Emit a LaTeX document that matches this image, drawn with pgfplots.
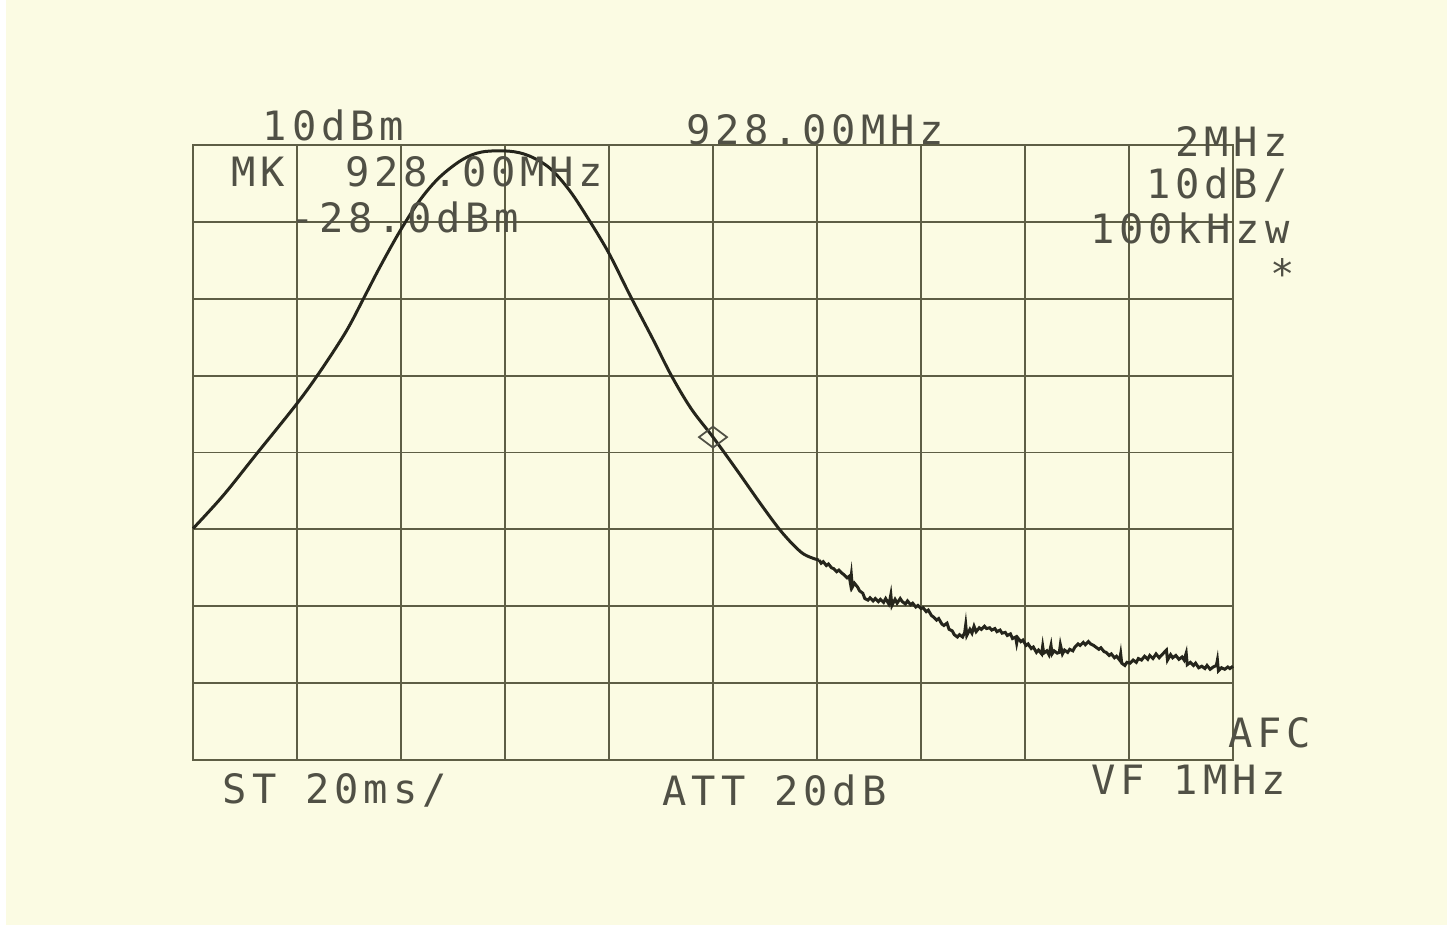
\documentclass[border=0pt]{standalone}
\usepackage{fontspec}
\setmonofont[LetterSpace=12]{DejaVu Sans Mono}
\usepackage{pgfplots}
\pgfplotsset{compat=1.18}
\definecolor{paper}{HTML}{FBFBE3}
\definecolor{gridc}{HTML}{5E5E45}
\definecolor{trace}{HTML}{25251C}
\definecolor{ink}{HTML}{505045}
\tikzset{lbl/.style={font=\ttfamily\fontsize{11.5}{12}\selectfont, text=ink, inner sep=0pt}}

\begin{document}
\begin{tikzpicture}
\fill[white] (0,0) rectangle (145.2mm,93.2mm);
\fill[paper] (0.6mm,0.7mm) rectangle (144.7mm,93.2mm);
\begin{axis}[
	at={(19.3mm,17.2mm)}, anchor=south west,
	scale only axis, width=104mm, height=61.5mm,
	xmin=0, xmax=10, ymin=0, ymax=8,
	xtick={0,1,...,10}, ytick={0,1,...,8},
	xticklabels={}, yticklabels={},
	major tick length=0pt,
	grid=major,
	grid style={gridc, line width=0.55pt},
	axis line style={gridc, line width=0.6pt},
	clip=false,
	]
	% trace, smooth part
	\addplot[trace, line width=0.85pt, smooth, tension=0.55] coordinates {
		(0.00,3.01) (0.29,3.44) (0.61,3.98) (0.99,4.62) (1.21,5.03) (1.47,5.57)
		(1.65,6.03) (1.80,6.42) (1.99,6.88) (2.18,7.28) (2.37,7.58) (2.59,7.81)
		(2.78,7.91) (3.04,7.92) (3.23,7.86) (3.43,7.70) (3.62,7.41) (3.81,7.02)
		(4.00,6.59) (4.20,6.05) (4.42,5.48) (4.60,5.00) (4.79,4.57) (5.00,4.20)
		(5.23,3.77) (5.48,3.29) (5.67,2.95) (5.86,2.69) (6.02,2.60)
	};
	% trace, noisy tail
	\addplot[trace, line width=0.85pt] coordinates {
		(6.02,2.60) (6.04,2.56) (6.06,2.58) (6.09,2.53) (6.11,2.55) (6.14,2.50)
		(6.16,2.49) (6.19,2.45) (6.21,2.47) (6.24,2.43) (6.26,2.41) (6.29,2.37)
		(6.31,2.39) (6.32,2.31) (6.33,2.41) (6.34,2.25) (6.36,2.30) (6.39,2.25)
		(6.41,2.20) (6.44,2.17) (6.46,2.10) (6.49,2.08) (6.51,2.11) (6.54,2.07)
		(6.56,2.10) (6.59,2.06) (6.61,2.09) (6.64,2.05) (6.66,2.10) (6.69,2.03)
		(6.70,2.08) (6.71,2.15) (6.72,2.01) (6.75,2.09) (6.77,2.04) (6.80,2.10)
		(6.82,2.06) (6.85,2.03) (6.87,2.07) (6.90,2.02) (6.92,2.04) (6.95,1.99)
		(6.97,2.01) (7.00,1.97) (7.02,1.98) (7.05,1.93) (7.07,1.95) (7.10,1.88)
		(7.12,1.86) (7.15,1.82) (7.17,1.84) (7.20,1.77) (7.22,1.75) (7.25,1.78)
		(7.27,1.70) (7.30,1.68) (7.32,1.63) (7.35,1.60) (7.37,1.63) (7.40,1.60)
		(7.42,1.66) (7.43,1.76) (7.44,1.62) (7.47,1.70) (7.49,1.65) (7.51,1.74)
		(7.53,1.67) (7.56,1.72) (7.58,1.70) (7.61,1.74) (7.63,1.71) (7.66,1.72)
		(7.68,1.69) (7.71,1.71) (7.73,1.67) (7.76,1.69) (7.78,1.65) (7.81,1.66)
		(7.83,1.62) (7.86,1.64) (7.88,1.58) (7.91,1.60) (7.92,1.52) (7.93,1.59)
		(7.96,1.54) (7.98,1.56) (8.01,1.49) (8.03,1.51) (8.06,1.45) (8.08,1.47)
		(8.11,1.40) (8.13,1.43) (8.16,1.38) (8.17,1.48) (8.18,1.39) (8.21,1.42)
		(8.23,1.37) (8.25,1.49) (8.26,1.38) (8.28,1.42) (8.31,1.39) (8.33,1.40)
		(8.34,1.50) (8.36,1.38) (8.38,1.43) (8.41,1.40) (8.43,1.44) (8.46,1.42)
		(8.48,1.47) (8.51,1.51) (8.53,1.49) (8.56,1.53) (8.58,1.50) (8.61,1.54)
		(8.63,1.51) (8.66,1.49) (8.68,1.47) (8.71,1.44) (8.73,1.46) (8.76,1.41)
		(8.78,1.40) (8.81,1.36) (8.83,1.38) (8.86,1.33) (8.88,1.35) (8.91,1.30)
		(8.92,1.38) (8.93,1.26) (8.96,1.23) (8.98,1.27) (9.01,1.26) (9.04,1.30)
		(9.07,1.27) (9.09,1.32) (9.12,1.30) (9.15,1.35) (9.18,1.31) (9.20,1.36)
		(9.23,1.32) (9.26,1.38) (9.29,1.33) (9.31,1.36) (9.36,1.43) (9.37,1.30)
		(9.40,1.37) (9.42,1.33) (9.45,1.36) (9.48,1.31) (9.51,1.34) (9.53,1.30)
		(9.55,1.39) (9.56,1.24) (9.59,1.27) (9.62,1.23) (9.64,1.26) (9.67,1.20)
		(9.70,1.22) (9.73,1.19) (9.75,1.23) (9.78,1.18) (9.81,1.21) (9.84,1.23)
		(9.85,1.30) (9.86,1.16) (9.89,1.20) (9.92,1.18) (9.95,1.21) (9.97,1.19)
		(10.00,1.22)
	};
	% marker
	\addplot[only marks, mark=diamond, mark size=1.4mm,
		mark options={rotate=90, draw=ink, line width=0.5pt, fill=none}] coordinates {(5.00,4.20)};

	\node[lbl] at (axis cs:1.35,8.26) {10dBm};
	\node[lbl] at (axis cs:5.98,8.20) {928.00MHz};
	\node[lbl, anchor=east] at (axis cs:10.53,8.04) {2MHz};
	\node[lbl, anchor=east] at (axis cs:10.53,7.48) {10dB/};
	\node[lbl, anchor=east] at (axis cs:10.55,6.92) {100kHzw};
	\node[lbl] at (axis cs:10.48,6.33) {*};
	\node[lbl] at (axis cs:0.63,7.65) {MK};
	\node[lbl, anchor=west] at (axis cs:1.46,7.65) {928.00MHz};
	\node[lbl, anchor=west] at (axis cs:0.93,7.06) {-28.0dBm};
	\node[lbl, anchor=west] at (axis cs:9.95,0.35) {AFC};
	\node[lbl, anchor=west] at (axis cs:0.28,-0.39) {ST 20ms/};
	\node[lbl, anchor=west] at (axis cs:4.51,-0.39) {ATT 20dB};
	\node[lbl, anchor=west] at (axis cs:8.63,-0.26) {VF 1MHz};
\end{axis}
\end{tikzpicture}
\end{document}
